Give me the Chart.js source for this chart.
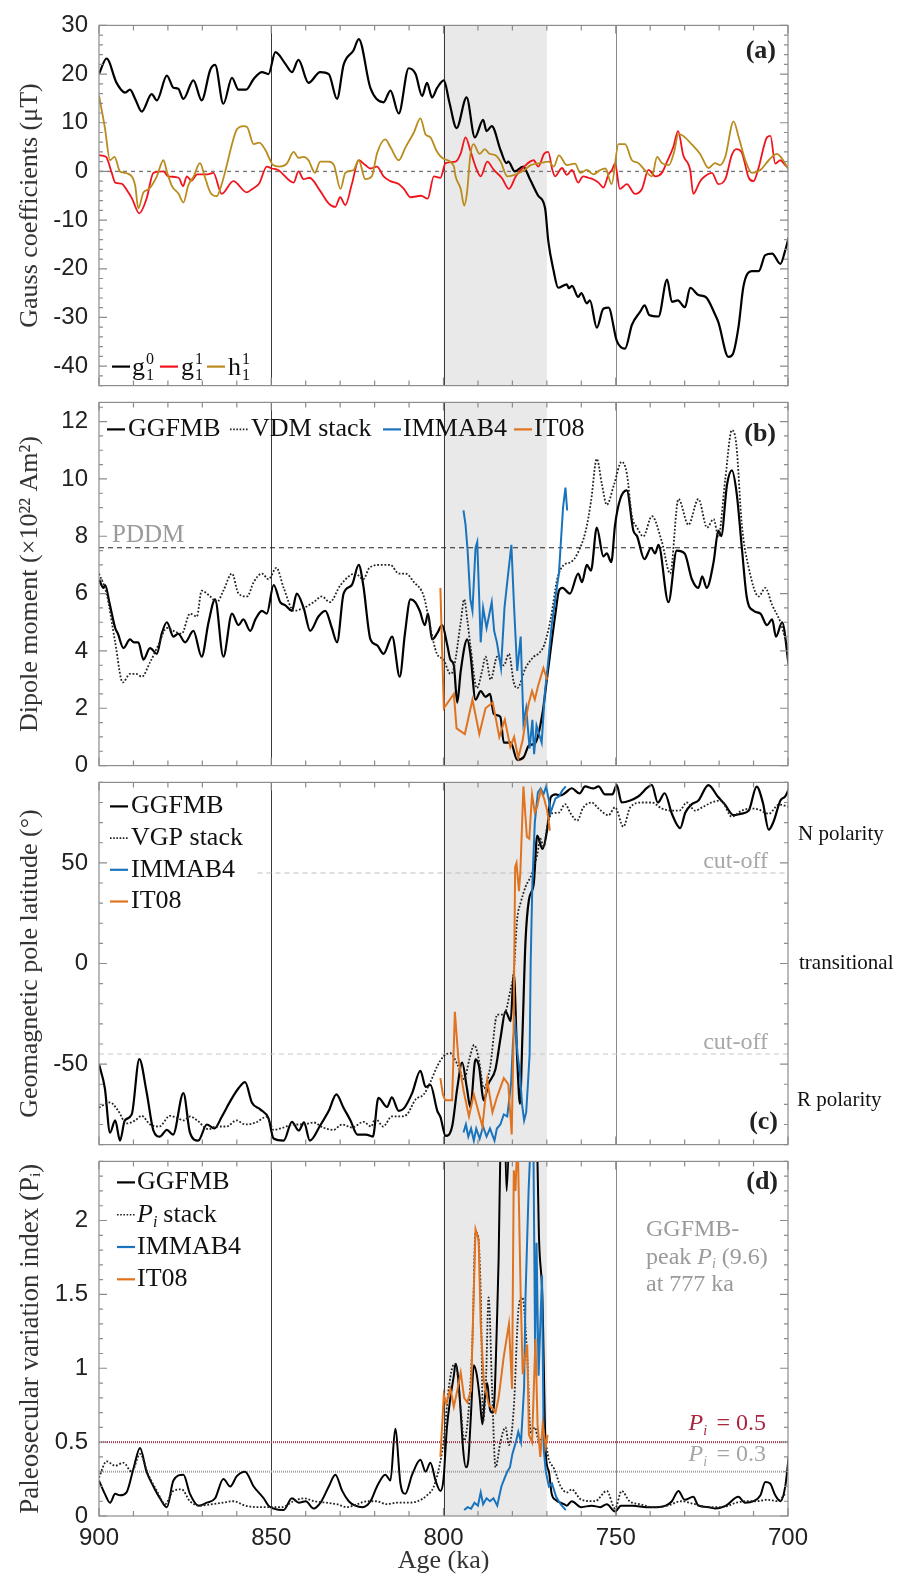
<!DOCTYPE html>
<html>
<head>
<meta charset="utf-8">
<script src="https://cdn.jsdelivr.net/npm/chart.js@4.4.1/dist/chart.umd.min.js"></script>
<style>
  body { margin: 0; background: #fff; }
  #wrap { position: relative; width: 902px; height: 1577px; overflow: hidden; background: #fff; }
  #wrap canvas { position: absolute; left: 0; }
</style>
</head>
<body>
<div id="wrap">
  <canvas id="pa"></canvas>
  <canvas id="pb"></canvas>
  <canvas id="pc"></canvas>
  <canvas id="pd"></canvas>
</div>
<script>
// ---- axis / tick values ----
const AGE_TICKS = [900, 850, 800, 750, 700];
const AGE_LINES = [850, 800, 750];
const SHADE = [800, 770];
const GAUSS_TICKS = [-40, -30, -20, -10, 0, 10, 20, 30];
const DIPOLE_TICKS = [0, 2, 4, 6, 8, 10, 12];
const LAT_TICKS = [-50, 0, 50];
const PI_TICKS = [0, 0.5, 1, 1.5, 2];
const PDDM = 7.6;
const CUTOFF = 45;
const PI_HI = 0.5, PI_LO = 0.3;

// ---- (a) Gauss coefficients, [age ka, uT] ----
const g10 = [[900,20],[897.8,23.2],[894.9,18.2],[892.4,16.2],[891,16.8],[889.5,14.9],[887.6,12.3],[884.7,15.9],[883.2,14.6],[880.3,19.7],[878.4,17.2],[877,17],[875.5,14.9],[872.6,18.7],[870.2,14.6],[867.7,20.9],[866.3,21.9],[863.9,13.9],[861.4,19.2],[859.5,16.8],[857.3,16.8],[855.1,19],[852.7,20.4],[850.8,20],[848.8,24.5],[845.9,22.1],[844,20.4],[842.1,22.9],[839.2,18.2],[835.8,20.4],[833.3,20],[830.9,14.9],[829,21.9],[826.1,24.9],[824.6,27.2],[821.2,17.1],[817.4,14.2],[815.4,16.6],[813,11.9],[810.1,21.2],[808.1,20],[806.2,15.5],[804.8,18.2],[803.3,15.2],[801.9,17.1],[799.9,18.7],[798.3,14.2],[796.2,8.9],[793.3,15.2],[790.9,7],[788.5,10.6],[787.5,8.3],[786,9.3],[783.4,4.3],[781.7,1.7],[781.2,2],[779.3,0],[776.9,1],[774.9,-1.6],[772.5,-5],[770.5,-7.6],[769.6,-14.2],[768.1,-20.2],[766.7,-23.9],[764.2,-23.2],[763.6,-24],[762.7,-23.5],[760.9,-25.8],[760,-25],[758.4,-27.1],[757.5,-26.5],[755.5,-32.1],[753.6,-28.2],[752.1,-28],[749.7,-34.8],[747.3,-36.4],[745.3,-31.5],[742.9,-28.8],[741.6,-27.5],[740.3,-29.5],[737.6,-29.8],[735.1,-22.2],[733.7,-26.8],[732,-26.5],[729.9,-27.9],[728.4,-23.9],[726,-25.4],[723.9,-25.8],[721.1,-29.5],[720.2,-31],[717.3,-38.1],[716,-37.5],[714.4,-32.1],[712.9,-23.5],[710.5,-20.5],[708.5,-20.5],[706.6,-17.2],[704.6,-16.9],[702.2,-19],[700.8,-16.2],[699.8,-13.6]];
const g11 = [[900,3.3],[898,3],[896.3,-0.3],[895.3,-2.3],[893.5,-2.5],[891.5,-4.3],[890.4,-5.6],[888.3,-8.6],[886.2,-5.6],[884.2,-0.3],[881.3,0],[879.9,-1],[876.9,-1.3],[875.6,-3],[874.5,-1],[873.2,-1.9],[871.5,-0.6],[868.5,-0.6],[866.8,-0.3],[864.4,-4.6],[861,-2],[857.1,-4.3],[855.5,-3.6],[853.5,-2.5],[851.3,1],[849.8,0.6],[848,0.3],[843.5,-2.3],[842.1,0],[840.6,-1.6],[838.9,-1.3],[835.8,-4],[833.3,-6.6],[831.4,-7.3],[830,-5.3],[828.5,-6.9],[826.6,-2.6],[824.6,2.3],[822.7,1.3],[821.2,0.6],[819.3,1],[817.4,-1],[815.4,-2],[813,-2.6],[811.5,-3.6],[809.6,-5.3],[806.5,-5],[804.6,-5.6],[802.8,-1],[800.9,-1.3],[799.4,1.7],[796.5,2],[795,3.7],[793.6,7],[792.2,4.3],[790.7,1],[789.2,-1],[787.3,2],[785.4,0.3],[783,-1.4],[781,-3.6],[779,-1],[777,0.7],[773.8,2.3],[772.5,1],[770.8,3.6],[769.6,4],[768.4,0.3],[767.6,-1],[765.6,0.7],[764.2,-0.7],[762.7,0.3],[760.9,-2.3],[759.5,-1],[758,-1.3],[756.6,-1.6],[755,-2.3],[753.6,-3.3],[752.1,-0.6],[751.1,0.3],[750.2,1.6],[748.8,-3.6],[746.8,-2.6],[744.4,-4.6],[742.4,-3.6],[740.5,0.3],[738.5,-1],[736.6,-0.3],[735.3,1.7],[733.3,5],[731.9,8.3],[730.4,3.3],[728.4,0.3],[727.5,-4.6],[725.5,-2],[724.1,-1],[722.1,-0.3],[720.2,-2.6],[718.2,-1.6],[716.3,3.4],[715,4.6],[713.5,4],[711.4,-1.3],[710,-2],[708.6,0.6],[706.1,7],[705.1,7.3],[703.7,1.6],[702.2,2.3],[700.8,1.3],[699.8,0.6]];
const h11 = [[900,15.6],[898.3,9],[896.8,2.3],[895.5,3],[893.9,0],[891.5,-0.5],[889.5,-2.9],[888.6,-7.6],[887.1,-4.3],[885.5,-3.6],[883.2,-1],[881.3,2.3],[880.3,0],[878.9,-2.9],[876.9,-4.6],[875.5,-6.4],[874.1,-2.9],[872.5,-1],[870.7,1.7],[869.2,-1.3],[867.7,-4.3],[865.8,-5.1],[864.5,-2.9],[863,1],[861.4,5.6],[860,8.6],[858,9.3],[857,9.1],[855.1,5.6],[853.5,5.9],[851.7,4.4],[850.3,2.3],[849.5,1.3],[847.6,1],[845.5,1.6],[843.5,4],[842.1,2.8],[840.6,3],[839.2,2.3],[837.3,-0.3],[835.8,2],[833.3,2],[831.8,1.3],[829.9,-3.6],[828.5,-0.3],[826.1,0.3],[824.6,2.3],[822.7,-1.6],[820.8,-1],[819.3,3.7],[816.9,6.6],[815.4,5],[813,2.3],[811,5],[808.6,8],[806.7,10.9],[805.2,7.6],[803.8,7],[802,4.2],[800,2.6],[797,1.1],[796.5,-1],[795,-3.6],[794,-7],[793.2,-4.5],[792.2,3.4],[791.3,5.6],[789.5,3.6],[788,4.6],[786.8,3.7],[784.9,3.3],[783.4,2],[781.5,-1],[779,-0.6],[776.5,0.3],[774.7,1.3],[772,1.7],[769.4,2],[768,1],[766.5,3.3],[764.2,1.3],[761.8,1.6],[760.3,-0.3],[758.4,0.3],[756.5,-0.6],[754.5,0.3],[753,0.6],[751.2,-2.6],[749.2,5.6],[747.3,5.6],[745.3,2.3],[743.4,1.7],[741.6,0.3],[739.5,-1],[738,3],[736.6,1.7],[734.6,1.3],[733.1,3.9],[731.8,7.7],[729.9,7],[728,5.6],[725.5,3.6],[723.1,0.7],[721.2,1.7],[719.7,1.3],[718.2,3],[715.8,10.3],[714.3,7],[712.4,2.3],[710.5,-0.3],[708,0.3],[705.6,2.3],[703.2,3.6],[701.7,2.6],[699.8,0.3]];

// ---- (b) dipole moment, [age ka, 1e22 Am2] ----
const dipoleGGFMB = [[900,6.5],[898.7,6.2],[898.2,6.3],[897,5.7],[895.3,4.8],[894.5,4.6],[892.9,4.1],[891,4.4],[889.8,4.3],[888.6,4.3],[887.1,3.7],[885.2,4.1],[883.2,3.9],[881.8,4.6],[880.3,5],[878.4,4.5],[877,4.6],[875,4.3],[872.6,4.7],[870.2,3.8],[868.2,5],[866.3,5.8],[863.9,3.8],[861.4,5.3],[859.5,4.9],[858.1,5.1],[856.1,4.7],[854.6,5.1],[852.7,5.4],[851.3,5.3],[849.3,6.3],[847.4,5.7],[846,5.6],[844,5.4],[842.6,6],[840.6,5.5],[838.7,4.7],[836.3,5.2],[834.3,5.4],[832.4,4.8],[830.9,4.3],[829,6],[826.6,6.3],[824.6,7],[823.3,6.3],[821.2,4.4],[819.3,4.2],[817.4,3.9],[814.9,4.5],[812.7,3.1],[811.2,4.6],[809.6,5.8],[808.2,5.7],[806.9,5.4],[805.4,4.9],[804.5,5.3],[803.3,4.4],[801.9,4.6],[800.4,4.9],[798.9,4.2],[798,3.7],[797,3.5],[796,2.2],[795,3.3],[793.1,4.4],[792.2,3.9],[790.7,2.3],[789.2,2.6],[787.8,2.4],[786.5,2.5],[785.4,1.8],[783.5,1.7],[782.5,0.8],[780.5,0.8],[778.6,0.2],[776.7,0.3],[775.2,0.7],[773.3,0.8],[771.3,1.8],[769.9,3.1],[767.4,5.4],[766.5,6.1],[765.5,6.2],[763.3,6],[760.9,6.7],[759.8,6.4],[758.4,7],[757.2,6.8],[755.5,8.3],[753.6,7.3],[752.6,7.4],[751.3,7.1],[750.2,8.4],[748.7,9.3],[746.8,9.6],[744.9,8.2],[743.8,8],[741.7,7.2],[739.7,7.6],[738.6,7.4],[737.6,7.7],[734.7,5.7],[732.3,7.5],[730,7.4],[727.9,6.5],[726,6.2],[724.9,6.6],[723.6,6.2],[721.6,7.1],[720.2,8.2],[719.4,8],[717.7,9.8],[716.3,10.3],[714.9,9.5],[713.4,7.6],[712,5.9],[710,5.4],[708,5.3],[706.1,4.9],[704.6,5.1],[703.5,4.5],[701.7,5],[699.8,3.5]];
const vdmStack = [[900,6.7],[897.8,6],[895.3,4.3],[893.1,2.9],[891,3.2],[889.2,3.2],[887.6,3.1],[885.2,3.6],[882.8,4.2],[880.3,4.8],[878.4,4.7],[876,4.6],[873.6,5.3],[871.6,5.2],[870.2,6.1],[867.7,5.9],[865.8,5.7],[863.9,6.1],[861.4,6.7],[859.5,6],[857,5.9],[855.1,6.4],[852.7,6.7],[850.8,6.5],[848.5,6.9],[846.4,6.2],[843.4,5.4],[840.6,5.5],[837.7,5.7],[835.3,5.9],[833,5.7],[829.9,6.3],[825.6,6.7],[823.3,6.5],[821.5,6.9],[818.3,7],[815.4,7],[813,6.7],[811,6.7],[808.6,6.4],[805.7,5.9],[803.8,4.8],[801.9,3.9],[800,3.7],[798,3.2],[797,3.4],[795,5],[794,5.8],[793.1,5.1],[792.2,4.2],[790.3,2.7],[788.8,3.3],[787.8,3.8],[786.3,3],[784.4,3.8],[782.5,3.5],[781,3.9],[779.6,2.9],[778.6,2.7],[776.2,3.4],[773.8,3.8],[772.5,3.9],[770.8,4.2],[768.9,5.1],[767,6.5],[765.1,7],[763,7.1],[761.1,7.4],[758.7,8.2],[757.2,9.2],[755.5,10.7],[754,9.8],[752.6,9.1],[750.5,9.8],[748.3,10.6],[746.8,10.2],[745.3,8.7],[743.8,8.3],[742,8],[739.5,8.7],[736.6,7.8],[734.2,6.7],[731.8,9.3],[728.9,8.4],[726,9.3],[723.5,8.3],[721.6,8.6],[720.2,8],[718.2,10],[716.3,11.7],[715,11.2],[713.4,8.4],[711.4,6.9],[708.5,5.9],[706.6,6.2],[704.6,5.6],[702.2,5],[700.3,4.2],[699.8,4]];
const dipoleIMMAB4 = [[794.2,8.9],[793.6,8.4],[793,7.5],[792.2,5.8],[791.6,5.4],[790.7,7.6],[790.2,7.8],[789.2,4.3],[788.5,5.5],[787.5,4.8],[786,5.7],[785.3,4.7],[784.5,4.3],[783.3,3.4],[782.3,5.5],[781.5,6.4],[780.3,7.7],[779.5,5.5],[778.6,3.3],[777.6,4.5],[776.8,1.5],[776,2],[775,0.6],[774.2,1.6],[773.7,0.4],[773,1.4],[771.5,0.8],[770.6,2.5],[769.9,3.3],[768.6,4.9],[767,6.3],[766.5,6.7],[765.3,9],[764.6,9.7],[764.1,8.9]];
const dipoleIT08 = [[800.9,6.2],[800.4,4],[799.9,2],[797,2.5],[796.2,1.3],[793.8,1.1],[791.6,2.3],[789.6,1.1],[787.8,2],[785.7,2.2],[783.8,1],[782.5,1.5],[782.2,1.6],[780.6,0.65],[779.5,1],[778.3,0.27],[777,0.9],[776,1.7],[775.2,2.2],[774.3,2.6],[773.5,2.3],[772.5,2.8],[771,3.4],[769.9,3]];

// ---- (c) geomagnetic pole latitude, [age ka, deg] ----
const latGGFMB = [[900,-50],[898.3,-62],[896.8,-84],[895.3,-78],[893.9,-88],[892.5,-78],[890.5,-75],[888.3,-47.5],[886.2,-63.7],[884.2,-83],[882.3,-86],[880.3,-82.7],[878.5,-85],[875.5,-64.4],[873.6,-84],[871.2,-88],[868.7,-80],[866.5,-82],[864.4,-76.3],[861.9,-68.4],[859.5,-62],[857.6,-59],[855.6,-69.2],[853.2,-72.5],[850.8,-77],[849.3,-87],[846.4,-88],[844,-78.7],[842,-83],[840.5,-79],[838.8,-88],[835.8,-80.5],[833.3,-73.2],[831.1,-65],[829,-71.8],[827,-78],[825,-85],[822.5,-85],[820.5,-86],[818.9,-66.8],[816.4,-71.3],[815,-66.5],[813,-73.2],[811.5,-72],[809.1,-64.4],[806.7,-53.3],[805.2,-61.3],[803.8,-60.3],[801.8,-73.2],[800.9,-76.2],[799.4,-85.7],[797.5,-81],[796,-61.9],[794.6,-49.2],[793.2,-62],[792.2,-71.4],[790.7,-47.6],[789.7,-51],[788.3,-68],[787,-60],[784.9,-52.4],[783.4,-36.5],[782,-23.8],[780.5,-28.6],[779.6,-4.8],[778.6,-47.6],[777.8,-69.8],[777.1,-36.5],[776.2,11],[775.2,31.7],[773.8,39.7],[772.8,63.5],[771.3,57],[769.9,66.7],[768.9,82.5],[767.4,84],[766,83.5],[764.5,85],[762.8,87.1],[760.5,84.5],[758.9,88],[756.5,87],[755,88],[753.1,84],[751,84],[749.7,88.6],[748.3,80],[745.8,81],[743.5,83],[739.5,88.6],[737.8,80],[735.8,84.6],[733.7,74.4],[731.3,67.3],[729.8,75],[727.9,79.2],[726,81],[723.1,88.6],[720.4,83],[718.4,79.2],[715.8,73.7],[713.5,74.5],[711.4,76],[709.1,87.9],[707.3,80],[705.6,66.5],[704.2,70.5],[702.2,81],[700.8,83],[699.8,86.5]];
const vgpStack = [[900,-71.6],[896.8,-69],[894.5,-73],[892,-79.5],[889.5,-78],[887.6,-75.7],[885.2,-80],[882.5,-81],[879.4,-75.7],[877,-77],[875.5,-78],[873.5,-76],[871.5,-78],[868.2,-82.4],[866,-81],[863,-81],[860.1,-78],[857.5,-80],[854.5,-79],[851.3,-76.2],[849.3,-82.7],[846.4,-81.5],[843.5,-80],[840.6,-80],[837.7,-79],[835,-81.5],[832,-82.7],[829.4,-80],[826.6,-81.5],[823.2,-78.7],[821,-81],[819.8,-77],[817.5,-81],[815,-76],[812.5,-76],[810.6,-75],[808.1,-67.6],[805.7,-65],[803.8,-58.9],[801.8,-51],[799.9,-46],[798,-44.6],[796,-50],[794,-57.6],[792.5,-47.6],[791.1,-40.5],[789.7,-48],[788.3,-62],[786.5,-52],[784.4,-25.4],[782.5,-25.4],[780.5,-12.7],[779.6,-4],[778.6,22.2],[777.6,30.2],[776.2,38],[774.4,44.4],[772.8,54],[771.9,62],[770.9,58],[769.9,68.2],[768.5,74.6],[766.5,75],[764.7,79.2],[763.1,74.6],[761.2,71],[759.5,77.3],[757,80],[755,77],[752.1,73.7],[750.2,77.6],[747.8,68],[745.8,77.6],[742.4,80],[739.5,80],[736.6,77],[733.7,76],[731.5,76],[729.4,80],[727,76],[724.5,78],[722.2,80],[719.5,81],[716.3,73],[713.4,76],[710.5,77],[708.5,76.5],[705.6,74.4],[702.6,79],[700,78]];
const latIMMAB4 = [[794.2,-84],[793.5,-80],[792.8,-86],[792,-82],[791.2,-88],[790.5,-82],[789.5,-87],[788.5,-81],[787.5,-86],[786.5,-82],[785.2,-88],[784.5,-82],[783.5,-80],[782.5,-75],[781.5,-76],[780.4,-60],[779.8,-38],[779.2,-30],[778.5,-45],[777.8,-55],[777.2,-70],[776.6,-78],[776,-74],[775.5,-60],[775,-45],[774.7,0],[774.2,40],[773.5,70],[772.6,85],[771.8,87],[771,84],[770.2,88],[769.3,80],[768.9,75],[767.5,82],[766.5,83],[765.5,86],[764.5,88]];
const latIT08 = [[800.9,-57],[800.2,-65],[799.5,-68],[797.5,-68],[796.7,-24],[795.7,-47],[794.2,-63],[792.6,-76],[791.2,-65],[789.8,-74],[788.7,-81],[787.3,-58],[785.8,-74],[784.4,-66],[782.5,-57],[781.2,-60],[780.2,-85],[779.7,-40],[779.2,48],[778.8,50],[778.1,36],[777.7,45],[776.8,88],[775.8,63],[775.1,62],[774.3,84],[773.5,75],[772.8,78],[771.8,86],[770.8,82],[769.9,76],[769.1,66]];

// ---- (d) paleosecular variation index, [age ka, Pi] ----
const piGGFMB = [[900,0.24],[898.3,0.15],[896.8,0.09],[895.3,0.15],[893.9,0.14],[892,0.16],[890,0.32],[888.1,0.46],[886.2,0.3],[884.2,0.2],[882.3,0.12],[880.3,0.06],[878.4,0.24],[875.5,0.28],[873.6,0.15],[871.1,0.07],[868.7,0.09],[866.3,0.12],[863.9,0.25],[861.9,0.2],[860,0.27],[857.6,0.3],[855.1,0.2],[852.2,0.12],[850.8,0.07],[849.3,0.05],[846.4,0.04],[844,0.12],[842,0.09],[840,0.1],[837.7,0.05],[835.7,0.09],[833.3,0.2],[831.4,0.28],[829.4,0.17],[827.5,0.1],[825.6,0.07],[823.5,0.06],[821.2,0.1],[819.3,0.2],[816.9,0.28],[815.4,0.24],[814,0.59],[812.5,0.22],[811.1,0.15],[809.1,0.28],[806.7,0.38],[805.2,0.3],[803.8,0.36],[802.3,0.24],[800.9,0.17],[800,0.25],[799,0.6],[798,0.8],[797,0.95],[796.5,1.03],[795.8,0.95],[795,0.7],[794.3,0.45],[793.5,0.33],[792.8,0.38],[792,0.7],[791.2,1.02],[790.3,0.95],[789.5,0.8],[788.7,0.62],[788,0.8],[787.3,0.9],[786.5,0.72],[785.8,0.7],[785.2,0.8],[784.5,1.3],[784,1.74],[783.4,2.6],[782.5,3],[781.7,2.2],[781,2.6],[780,4],[779,6],[777,9.6],[775,6],[773.5,3],[772.8,2.5],[772.3,1.9],[771.3,1.48],[770.3,0.42],[769.4,0.3],[768.6,0.15],[767.5,0.11],[765,0.08],[764.2,0.07],[762.8,0.1],[760,0.06],[757,0.07],[754.5,0.06],[752.6,0.08],[750.2,0.03],[748.5,0.07],[745,0.07],[741,0.06],[738,0.06],[735.5,0.07],[733.7,0.1],[731.8,0.17],[730,0.11],[727.5,0.13],[726,0.07],[723,0.06],[721.1,0.05],[718,0.07],[714.4,0.13],[712.5,0.09],[710,0.1],[708,0.14],[706.6,0.23],[705.2,0.22],[703.7,0.14],[702.2,0.1],[700.8,0.2],[699.8,0.4]];
const piStack = [[900,0.26],[897.8,0.37],[895.3,0.34],[892.9,0.36],[890.5,0.3],[888.1,0.42],[885.7,0.28],[883.2,0.17],[880.8,0.08],[878.4,0.17],[876,0.18],[873.6,0.1],[870.7,0.07],[867,0.08],[864,0.09],[861,0.1],[857.5,0.07],[854,0.06],[850.3,0.06],[847,0.06],[843.5,0.1],[840.5,0.12],[837.5,0.1],[834,0.09],[831,0.08],[828,0.06],[825,0.08],[822.2,0.1],[819.5,0.1],[816.5,0.08],[813.5,0.09],[810.5,0.09],[807.5,0.1],[804.8,0.14],[802.8,0.2],[800.9,0.37],[800,0.5],[798.5,0.86],[797.5,1],[796.5,1.03],[795,0.73],[794,0.51],[792.5,0.78],[791.6,1.19],[790.7,1.92],[790,1.9],[789.2,1.52],[788.5,0.64],[787.7,0.9],[786.9,1.48],[785.9,0.86],[784.9,0.33],[783.4,0.51],[782,0.6],[781,0.48],[779.6,0.73],[778.2,1.41],[777.1,1.48],[775.7,1.08],[774.7,0.56],[773.5,0.6],[772.3,0.51],[770.8,0.53],[769.4,0.38],[767.9,0.32],[766,0.2],[764.1,0.16],[762.8,0.18],[760,0.11],[756,0.1],[752.6,0.17],[750.2,0.05],[748.3,0.17],[746,0.1],[743,0.08],[739,0.06],[735,0.07],[731,0.1],[727,0.08],[723,0.06],[719,0.06],[715,0.09],[712,0.1],[709,0.1],[706,0.11],[703,0.1],[700.8,0.15]];
const piIMMAB4 = [[794,0.04],[793,0.06],[792,0.05],[791,0.09],[790,0.07],[789.2,0.16],[788.5,0.08],[787.5,0.12],[786.5,0.1],[785.5,0.12],[784.4,0.07],[783.2,0.2],[782.2,0.26],[781.5,0.3],[780.7,0.33],[780,0.42],[779,0.5],[778.3,0.57],[777.5,0.5],[776.6,0.87],[776.2,1.48],[775.3,2.2],[774.6,2.6],[774,2.8],[773.4,1.1],[773,1.85],[772.4,0.95],[771.4,1.63],[770.9,0.45],[770.3,0.3],[769.4,0.2],[768.5,0.22],[767.3,0.13],[766,0.08],[764.5,0.04]];
const piIT08 = [[800.9,0.4],[799.9,0.82],[799.2,0.76],[798,0.86],[797,0.74],[796,0.85],[795,0.97],[794,0.8],[793.1,0.77],[792,0.85],[790.7,1.94],[789.8,1.87],[789.2,1.3],[788.3,0.91],[786.8,0.75],[785.8,0.73],[784.9,0.7],[784,0.8],[782.5,1.08],[781,1.3],[780.1,0.86],[779.6,2.34],[779.1,2.2],[778.5,2.6],[777.6,1.5],[777,0.96],[776.5,1.05],[775.7,1.16],[775.2,0.55],[774.3,0.5],[773.3,1.2],[772.7,0.62],[771.9,0.4],[771.2,0.62],[770.3,0.47],[769.8,0.55]];

// ---- styling ----
const SERIF = '"Liberation Serif", "DejaVu Serif", serif';
const SANS = '"Liberation Sans", Arial, sans-serif';
const C_BLUE = '#1a74bd';
const C_ORANGE = '#e0731f';
const C_RED = '#f0141c';
const C_GOLD = '#b98b1c';

function pts(arr) {
  return arr.map(p => ({ x: p[0], y: p[1] }));
}

function series(arr, color, width, extra) {
  return Object.assign({
    data: pts(arr),
    borderColor: color,
    borderWidth: width,
    pointRadius: 0,
    fill: false,
    tension: 0
  }, extra || {});
}

function hline(y, from, to, color, width, dash) {
  return series([[from, y], [to, y]], color, width, { borderDash: dash, order: 20 });
}

const smooth = { cubicInterpolationMode: 'monotone' };

// little legend pieces
function legendDash(ctx, x, y, color, dotted) {
  ctx.save();
  ctx.strokeStyle = color;
  ctx.lineWidth = dotted ? 1.6 : 2.2;
  ctx.setLineDash(dotted ? [1.6, 1.6] : []);
  ctx.beginPath();
  ctx.moveTo(x, y);
  ctx.lineTo(x + 18, y);
  ctx.stroke();
  ctx.restore();
}

function text(ctx, str, x, y, font, color, align) {
  ctx.font = font;
  ctx.fillStyle = color;
  ctx.textAlign = align || 'left';
  ctx.textBaseline = 'middle';
  ctx.fillText(str, x, y);
  return ctx.measureText(str).width;
}

// italic P with subscript i, returns end x
function piSymbol(ctx, x, y, size, color) {
  let w = text(ctx, 'P', x, y, 'italic ' + size + 'px ' + SERIF, color);
  let w2 = text(ctx, 'i', x + w, y + size * 0.3, 'italic ' + Math.round(size * 0.6) + 'px ' + SERIF, color);
  return x + w + w2;
}

function gaussLabel(ctx, x, y, base, up, down) {
  const w = text(ctx, base, x, y, '26px ' + SERIF, '#111');
  text(ctx, up, x + w + 1, y - 9, '16px ' + SERIF, '#111');
  text(ctx, down, x + w + 1, y + 7, '16px ' + SERIF, '#111');
}

const PANEL_TEXT = {
  pa(ctx, ca, y) {
    const ly = ca.bottom - 19;
    legendDash(ctx, ca.left + 13, ly, '#000');
    gaussLabel(ctx, ca.left + 33, ly + 2, 'g', '0', '1');
    legendDash(ctx, ca.left + 61, ly, C_RED);
    gaussLabel(ctx, ca.left + 82, ly + 2, 'g', '1', '1');
    legendDash(ctx, ca.left + 108, ly, C_GOLD);
    gaussLabel(ctx, ca.left + 129, ly + 2, 'h', '1', '1');
    text(ctx, '(a)', ca.right - 12, ca.top + 26, 'bold 26px ' + SERIF, '#222', 'right');
  },
  pb(ctx, ca, y) {
    const ly = ca.top + 27;
    legendDash(ctx, ca.left + 8, ly, '#000');
    text(ctx, 'GGFMB', ca.left + 29, ly, '26px ' + SERIF, '#111');
    legendDash(ctx, ca.left + 131, ly, '#222', true);
    text(ctx, 'VDM stack', ca.left + 152, ly, '26px ' + SERIF, '#111');
    legendDash(ctx, ca.left + 284, ly, C_BLUE);
    text(ctx, 'IMMAB4', ca.left + 304, ly, '26px ' + SERIF, '#111');
    legendDash(ctx, ca.left + 415, ly, C_ORANGE);
    text(ctx, 'IT08', ca.left + 435, ly, '26px ' + SERIF, '#111');
    text(ctx, 'PDDM', ca.left + 13, y.getPixelForValue(PDDM) - 12, '25px ' + SERIF, '#9a9a9a');
    text(ctx, '(b)', ca.right - 12, ca.top + 32, 'bold 26px ' + SERIF, '#222', 'right');
  },
  pc(ctx, ca, y) {
    const rows = [['GGFMB', '#000', false], ['VGP stack', '#222', true], ['IMMAB4', C_BLUE, false], ['IT08', C_ORANGE, false]];
    rows.forEach((r, i) => {
      const ly = ca.top + 24 + i * 31.7;
      legendDash(ctx, ca.left + 11, ly, r[1], r[2]);
      text(ctx, r[0], ca.left + 32, ly, '26px ' + SERIF, '#111');
    });
    text(ctx, 'cut-off', ca.right - 20, y.getPixelForValue(CUTOFF) - 11, '24px ' + SERIF, '#a8a8a8', 'right');
    text(ctx, 'cut-off', ca.right - 20, y.getPixelForValue(-CUTOFF) - 11, '24px ' + SERIF, '#a8a8a8', 'right');
    text(ctx, 'N polarity', ca.right + 10, y.getPixelForValue(64), '21px ' + SERIF, '#111');
    text(ctx, 'transitional', ca.right + 11, y.getPixelForValue(0), '21px ' + SERIF, '#111');
    text(ctx, 'R polarity', ca.right + 9, y.getPixelForValue(-68), '21px ' + SERIF, '#111');
    text(ctx, '(c)', ca.right - 10, ca.bottom - 22, 'bold 26px ' + SERIF, '#222', 'right');
  },
  pd(ctx, ca, y) {
    const rows = [['GGFMB', '#000', false], ['stack', '#222', true], ['IMMAB4', C_BLUE, false], ['IT08', C_ORANGE, false]];
    rows.forEach((r, i) => {
      const ly = ca.top + 21 + i * 32.3;
      legendDash(ctx, ca.left + 18, ly, r[1], r[2]);
      let x = ca.left + 38;
      if (r[0] === 'stack') {
        x = piSymbol(ctx, x, ly, 26, '#111') + 6;
      }
      text(ctx, r[0], x, ly, '26px ' + SERIF, '#111');
    });
    text(ctx, '(d)', ca.right - 10, ca.top + 21, 'bold 26px ' + SERIF, '#222', 'right');
    const gx = ca.left + 547, gc = '#9a9a9a';
    text(ctx, 'GGFMB-', gx, ca.top + 68, '24px ' + SERIF, gc);
    let x = gx + text(ctx, 'peak ', gx, ca.top + 96, '24px ' + SERIF, gc);
    x = piSymbol(ctx, x, ca.top + 96, 24, gc);
    text(ctx, ' (9.6)', x, ca.top + 96, '24px ' + SERIF, gc);
    text(ctx, 'at 777 ka', gx, ca.top + 123, '24px ' + SERIF, gc);
    // reference labels
    const hiY = y.getPixelForValue(PI_HI) - 18, loY = y.getPixelForValue(PI_LO) - 17;
    const rx = ca.right - 22;
    let w = text(ctx, ' = 0.5', rx, hiY, '24px ' + SERIF, '#a8263f', 'right');
    piSymbol(ctx, rx - w - 22, hiY, 24, '#a8263f');
    w = text(ctx, ' = 0.3', rx, loY, '24px ' + SERIF, '#a5a5a5', 'right');
    piSymbol(ctx, rx - w - 22, loY, 24, '#a5a5a5');
  }
};

const PANEL_MINOR = { pa: 2, pb: 0.5, pc: 10, pd: 0.1 };

const deco = {
  id: 'deco',
  beforeDatasetsDraw(chart) {
    const { ctx, chartArea: ca, scales } = chart;
    const x = scales.x;
    ctx.save();
    const s0 = x.getPixelForValue(SHADE[0]), s1 = x.getPixelForValue(SHADE[1]);
    ctx.fillStyle = '#e9e9e9';
    ctx.fillRect(s0, ca.top, s1 - s0, ca.bottom - ca.top);
    AGE_LINES.forEach(a => {
      const px = Math.round(x.getPixelForValue(a)) + 0.5;
      ctx.strokeStyle = a === 750 ? '#8a8a8a' : '#3a3a3a';
      ctx.lineWidth = 1;
      ctx.beginPath();
      ctx.moveTo(px, ca.top);
      ctx.lineTo(px, ca.bottom);
      ctx.stroke();
    });
    ctx.restore();
  },
  afterDatasetsDraw(chart) {
    const { ctx, chartArea: ca, scales } = chart;
    const x = scales.x, y = scales.y;
    const id = chart.canvas.id;
    ctx.save();
    ctx.strokeStyle = '#8c8c8c';
    ctx.lineWidth = 1.2;
    ctx.strokeRect(ca.left, ca.top, ca.right - ca.left, ca.bottom - ca.top);
    ctx.beginPath();
    // age ticks top and bottom
    for (let a = 700; a <= 900; a += 10) {
      const px = x.getPixelForValue(a);
      const len = a % 50 === 0 ? 8 : 5;
      ctx.moveTo(px, ca.top); ctx.lineTo(px, ca.top + len);
      ctx.moveTo(px, ca.bottom); ctx.lineTo(px, ca.bottom - len);
    }
    // value ticks left and right
    const step = PANEL_MINOR[id];
    const n0 = Math.ceil(y.min / step - 1e-6), n1 = Math.floor(y.max / step + 1e-6);
    const majors = y.ticks.map(t => t.value);
    for (let k = n0; k <= n1; k++) {
      const v = k * step;
      const py = y.getPixelForValue(v);
      const len = majors.some(m => Math.abs(m - v) < 1e-6) ? 8 : 4;
      ctx.moveTo(ca.left, py); ctx.lineTo(ca.left + len, py);
      ctx.moveTo(ca.right, py); ctx.lineTo(ca.right - len, py);
    }
    ctx.stroke();
    PANEL_TEXT[id](ctx, ca, y);
    ctx.restore();
  }
};

function makePanel(id, canvasTop, height, padTop, padBottom, yOpts, sets, bottomAxis) {
  const cv = document.getElementById(id);
  cv.width = 902;
  cv.height = height;
  cv.style.top = canvasTop + 'px';
  const xScale = {
    type: 'linear', min: 700, max: 900, reverse: true,
    display: !!bottomAxis,
    grid: { display: false, drawTicks: false },
    border: { display: false },
    afterBuildTicks: s => { s.ticks = AGE_TICKS.map(v => ({ value: v })); },
    ticks: { font: { family: SANS, size: 24 }, color: '#222', padding: 8, maxRotation: 0, callback: v => String(v) },
    title: { display: !!bottomAxis, text: 'Age (ka)', font: { family: SERIF, size: 26 }, color: '#333', padding: { top: 0, bottom: 0 } },
    afterFit: s => { if (bottomAxis) s.height = 61; }
  };
  const yScale = {
    type: 'linear', min: yOpts.min, max: yOpts.max,
    grid: { display: false, drawTicks: false },
    border: { display: false },
    afterBuildTicks: s => { s.ticks = yOpts.ticks.map(v => ({ value: v })); },
    ticks: { font: { family: SANS, size: 24 }, color: '#222', padding: 11, callback: v => String(v) },
    title: { display: true, text: yOpts.title, font: { family: SERIF, size: yOpts.titleSize || 26 }, color: '#333', padding: { top: 15, bottom: 0 } },
    afterFit: s => { s.width = 99; }
  };
  return new Chart(cv, {
    type: 'line',
    data: { datasets: sets },
    options: {
      responsive: false,
      animation: false,
      events: [],
      layout: { padding: { top: padTop, bottom: padBottom, left: 0, right: 114 } },
      plugins: { legend: { display: false }, tooltip: { enabled: false } },
      elements: { point: { radius: 0 } },
      scales: { x: xScale, y: yScale }
    },
    plugins: [deco]
  });
}

// (a)
makePanel('pa', 0, 411, 21, 18,
  { min: -44, max: 30, ticks: GAUSS_TICKS, title: 'Gauss coefficients (\u03bcT)' },
  [
    hline(0, 900, 700, '#7a7a7a', 1.4, [4, 4]),
    series(g10, '#000', 2.2, Object.assign({ order: 3 }, smooth)),
    series(g11, C_RED, 1.8, Object.assign({ order: 2 }, smooth)),
    series(h11, C_GOLD, 1.8, Object.assign({ order: 1 }, smooth))
  ]);

// (b)
makePanel('pb', 377, 414, 16, 18,
  { min: 0, max: 12.67, ticks: DIPOLE_TICKS, title: 'Dipole moment (\u00d710\u00b2\u00b2 Am\u00b2)' },
  [
    hline(PDDM, 900, 700, '#222', 1.1, [5, 4]),
    series(dipoleGGFMB, '#000', 2.2, Object.assign({ order: 4 }, smooth)),
    series(vdmStack, '#222', 1.8, Object.assign({ order: 3, borderDash: [1.8, 1.8] }, smooth)),
    series(dipoleIMMAB4, C_BLUE, 2, { order: 2 }),
    series(dipoleIT08, C_ORANGE, 2, { order: 1 })
  ]);

// (c)
makePanel('pc', 757, 413, 16, 18,
  { min: -90, max: 90, ticks: LAT_TICKS, title: 'Geomagnetic pole latitude (\u00b0)' },
  [
    hline(CUTOFF, 854, 700, '#bdbdbd', 1.1, [5, 4]),
    hline(-CUTOFF, 900, 700, '#c8c8c8', 1.1, [5, 4]),
    series(latGGFMB, '#000', 2.2, Object.assign({ order: 4 }, smooth)),
    series(vgpStack, '#222', 1.8, Object.assign({ order: 3, borderDash: [1.8, 1.8] }, smooth)),
    series(latIMMAB4, C_BLUE, 2, { order: 2 }),
    series(latIT08, C_ORANGE, 2, { order: 1 })
  ]);

// (d)
makePanel('pd', 1136, 441, 16, 0,
  { min: 0, max: 2.4, ticks: PI_TICKS, title: 'Paleosecular variation index (P\u1d62)', titleSize: 27 },
  [
    hline(PI_HI, 900, 700, '#a8344f', 2, [1, 1]),
    hline(PI_LO, 900, 700, '#a0a0a0', 2, [1, 1]),
    series(piGGFMB, '#000', 2, Object.assign({ order: 4 }, smooth)),
    series(piStack, '#222', 1.8, Object.assign({ order: 3, borderDash: [1.8, 1.8] }, smooth)),
    series(piIMMAB4, C_BLUE, 2, { order: 2 }),
    series(piIT08, C_ORANGE, 2, { order: 1 })
  ], true);
</script>
</body>
</html>
